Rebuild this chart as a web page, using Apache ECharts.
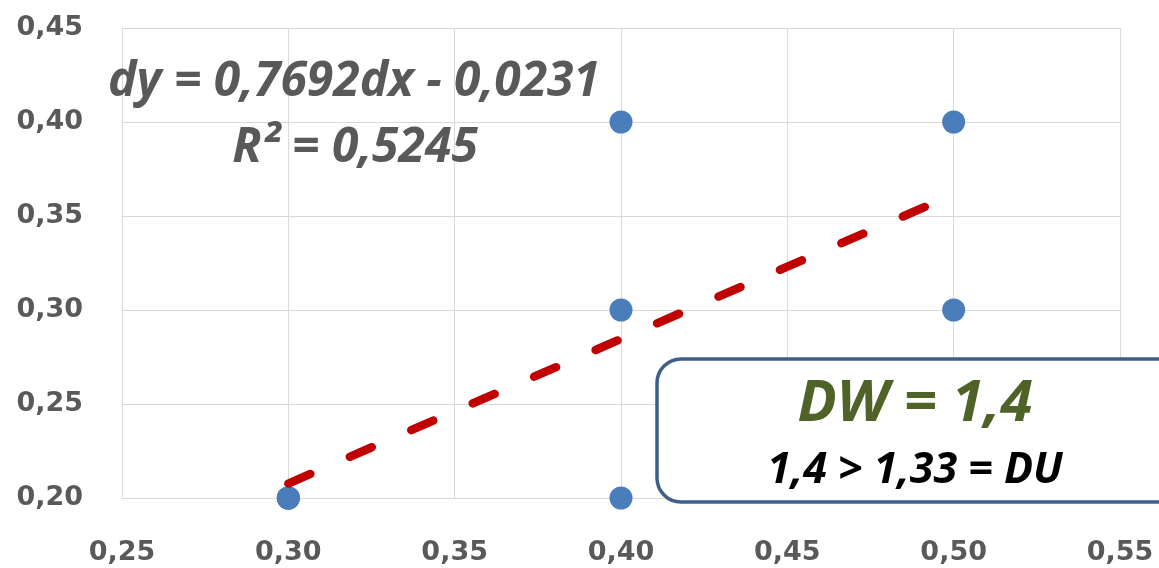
<!DOCTYPE html>
<html>
<head>
<meta charset="utf-8">
<script src="https://cdn.jsdelivr.net/npm/echarts@6/dist/echarts.min.js"></script>
<style>
html,body{margin:0;padding:0;background:#fff;}
#chart{width:1159px;height:568px;}
</style>
</head>
<body>
<div id="chart"></div>
<script>
// Observed points (dx, dy); (0,30;0,20) occurs three times (consistent with the fitted equation)
const pointsX = [0.30, 0.30, 0.30, 0.40, 0.40, 0.40, 0.50, 0.50];
const pointsY = [0.20, 0.20, 0.20, 0.20, 0.30, 0.40, 0.30, 0.40];
// Linear trend line endpoints (dy = 0,7692dx - 0,0231)
const trendX = [0.30, 0.50];
const trendY = [0.2077, 0.3615];
// Axis ticks
const xTickLabels = ['0,25', '0,30', '0,35', '0,40', '0,45', '0,50', '0,55'];
const yTickLabels = ['0,20', '0,25', '0,30', '0,35', '0,40', '0,45'];
const xMin = 0.25, xMax = 0.55, yMin = 0.20, yMax = 0.45, step = 0.05;
// Annotation texts
const eqText = 'dy = 0,7692dx - 0,0231';
const r2Text = 'R² = 0,5245';
const dwText = 'DW = 1,4';
const duText = '1,4 > 1,33 = DU';

const chart = echarts.init(document.getElementById('chart'), null, {renderer: 'canvas'});
const tickFont = {fontFamily: 'DejaVu Sans', fontWeight: 'bold', fontSize: 27, color: '#595959'};
const gridLine = {show: true, lineStyle: {color: '#d9d9d9', width: 1}};

chart.setOption({
  animation: false,
  backgroundColor: '#ffffff',
  grid: {left: 122, right: 39, top: 28, bottom: 70, containLabel: false},
  xAxis: {
    type: 'value', min: xMin, max: xMax, interval: step,
    axisLine: {show: false}, axisTick: {show: false},
    splitLine: gridLine,
    axisLabel: Object.assign({margin: 41, formatter: v => xTickLabels[Math.round((v - xMin) / step)]}, tickFont)
  },
  yAxis: {
    type: 'value', min: yMin, max: yMax, interval: step,
    axisLine: {show: false}, axisTick: {show: false},
    splitLine: gridLine,
    axisLabel: Object.assign({margin: 39, formatter: v => yTickLabels[Math.round((v - yMin) / step)]}, tickFont)
  },
  series: [
    {
      type: 'scatter', z: 2,
      data: pointsX.map((x, i) => [x, pointsY[i]]),
      symbol: 'circle', symbolSize: 23,
      itemStyle: {color: '#4a7ebb', opacity: 1},
      silent: true
    },
    {
      type: 'line', z: 3,
      data: trendX.map((x, i) => [x, trendY[i]]),
      showSymbol: false, symbol: 'none',
      lineStyle: {color: '#c00000', width: 8.5, type: [24, 43], cap: 'round'},
      silent: true
    }
  ],
  graphic: [
    {
      type: 'text', z: 10, x: 354, y: 82,
      style: {text: eqText, font: 'italic bold 48px "Open Sans"', fill: '#595959',
        textAlign: 'center', textVerticalAlign: 'middle', align: 'center', verticalAlign: 'middle'}
    },
    {
      type: 'text', z: 10, x: 355, y: 148,
      style: {text: r2Text, font: 'italic bold 48px "Open Sans"', fill: '#595959',
        textAlign: 'center', textVerticalAlign: 'middle', align: 'center', verticalAlign: 'middle'}
    },
    {
      type: 'rect', z: 20,
      shape: {x: 657, y: 359, width: 530, height: 143, r: 24},
      style: {fill: '#ffffff', stroke: '#3e5f8a', lineWidth: 3.5}
    },
    {
      type: 'text', z: 21, x: 915, y: 404,
      style: {text: dwText, font: 'italic bold 58px "Open Sans"', fill: '#4f6228',
        textAlign: 'center', textVerticalAlign: 'middle', align: 'center', verticalAlign: 'middle'}
    },
    {
      type: 'text', z: 21, x: 915, y: 471,
      style: {text: duText, font: 'italic bold 43px "Open Sans"', fill: '#000000',
        textAlign: 'center', textVerticalAlign: 'middle', align: 'center', verticalAlign: 'middle'}
    }
  ]
});
</script>
</body>
</html>
